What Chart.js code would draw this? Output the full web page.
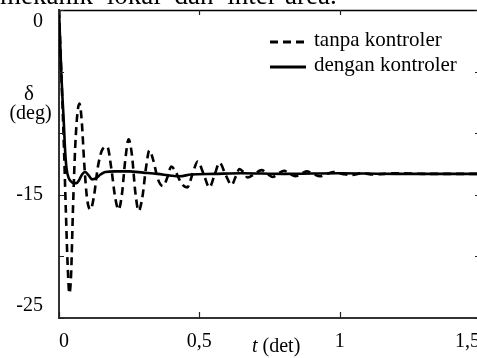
<!DOCTYPE html>
<html><head><meta charset="utf-8">
<script src="https://cdn.jsdelivr.net/npm/chart.js@4.4.1/dist/chart.umd.min.js"></script>
<style>
html,body{margin:0;padding:0;background:#fff;overflow:hidden;width:477px;height:358px;position:relative;}
#wrap{position:absolute;left:0;top:0;width:484px;height:358px;}
.t{position:absolute;font-family:'Liberation Serif','Times New Roman',serif;color:#000;white-space:nowrap;}
</style></head><body>
<div id="wrap"><canvas id="c"></canvas></div>
<div class="t" style="left:0;top:-17.6px;font-size:27px;line-height:27px;word-spacing:7px;">mekanik lokal dan inter-area.</div>
<div class="t" style="left:0;width:58px;text-align:center;top:83px;font-size:21px;line-height:20px;">δ</div>
<div class="t" style="left:0;width:61px;text-align:center;top:102px;font-size:20px;line-height:20px;">(deg)</div>
<div class="t" style="left:252px;top:335px;font-size:20px;line-height:20px;"><i>t</i> (det)</div>
<svg style="position:absolute;left:266px;top:30px" width="44" height="45">
  <line x1="4" y1="12" x2="40" y2="12" stroke="#000" stroke-width="3" stroke-dasharray="8 5"/>
  <line x1="4" y1="37" x2="40" y2="37" stroke="#000" stroke-width="3"/>
</svg>
<div class="t" style="left:314px;top:29.4px;font-size:21px;line-height:21px;">tanpa kontroler</div>
<div class="t" style="left:314px;top:54.4px;font-size:21px;line-height:21px;">dengan kontroler</div>
<script>
// time (s) and rotor angle (deg), without controller (dashed)
const tTanpa = [0,0.008,0.016,0.024,0.031,0.037,0.043,0.05,0.058,0.066,0.073,0.081,0.09,0.1,0.112,0.124,0.138,0.155,0.172,0.186,0.2,0.212,0.224,0.236,0.248,0.26,0.272,0.284,0.297,0.31,0.322,0.336,0.352,0.37,0.386,0.4,0.415,0.437,0.457,0.476,0.494,0.515,0.536,0.554,0.572,0.594,0.615,0.63,0.643,0.658,0.672,0.697,0.722,0.742,0.762,0.782,0.802,0.822,0.842,0.862,0.882,0.905,0.93,0.955,0.98,1.01,1.04,1.08,1.12,1.2,1.3,1.5];
const vTanpa = [0,-5,-10,-16,-20.8,-23,-21.5,-16,-11,-8.3,-7.6,-9,-12.5,-15.3,-16.2,-15.2,-12.8,-11.3,-11.1,-12.8,-15.2,-16.2,-15,-12.2,-10.5,-11.8,-14.8,-16.3,-15.2,-12.8,-11.4,-12.2,-13.7,-14.3,-13.6,-12.7,-13.1,-14.1,-14.4,-13.3,-12.3,-13.3,-14.4,-13.4,-12.4,-13.4,-14.2,-13.5,-12.9,-13.2,-13.6,-13.3,-13.0,-13.3,-13.55,-13.25,-13.05,-13.3,-13.5,-13.3,-13.1,-13.3,-13.5,-13.3,-13.15,-13.3,-13.4,-13.25,-13.35,-13.25,-13.3,-13.3];
// with controller (solid)
const tDengan = [0,0.004,0.008,0.012,0.016,0.022,0.027,0.034,0.042,0.052,0.062,0.072,0.082,0.093,0.105,0.118,0.132,0.148,0.165,0.2,0.25,0.3,0.35,0.4,0.43,0.47,0.55,0.65,0.8,1.0,1.2,1.5];
const vDengan = [0,-2.5,-5,-7,-8.6,-11.5,-12.9,-13.6,-13.9,-14.05,-14.05,-13.8,-13.35,-13.15,-13.4,-13.75,-13.65,-13.35,-13.15,-13.1,-13.1,-13.2,-13.3,-13.45,-13.5,-13.35,-13.3,-13.25,-13.3,-13.25,-13.3,-13.3];
// tick labels
const xTickLabels = {0:'0',0.5:'0,5',1:'1',1.5:'1,5'};
const yTickLabels = {'0':['','0'],'-15':'-15','-25':['-25','']};

const pts = (ts, vs) => ts.map((t, i) => ({x: t, y: vs[i]}));

const frame = {
  id: 'frame',
  afterDatasetsDraw(chart) {
    const {ctx, chartArea: a, scales: {x, y}} = chart;
    ctx.save();
    ctx.strokeStyle = '#000';
    ctx.lineWidth = 1.5;
    ctx.beginPath();
    ctx.moveTo(a.left, a.top + 0.5);
    ctx.lineTo(a.right, a.top + 0.5);
    ctx.lineTo(a.right, a.bottom);
    ctx.stroke();
    ctx.lineWidth = 1.2;
    ctx.strokeStyle = '#222';
    ctx.beginPath();
    y.ticks.forEach(tk => {
      const py = Math.round(y.getPixelForValue(tk.value)) + 0.5;
      ctx.moveTo(a.left, py); ctx.lineTo(a.left + 5, py);
      ctx.moveTo(a.right, py); ctx.lineTo(a.right - 5, py);
    });
    x.ticks.forEach(tk => {
      const px = Math.round(x.getPixelForValue(tk.value)) + 0.5;
      ctx.moveTo(px, a.top); ctx.lineTo(px, a.top + 5);
      ctx.moveTo(px, a.bottom); ctx.lineTo(px, a.bottom - 6);
    });
    ctx.stroke();
    ctx.restore();
  }
};

Chart.defaults.font.family = "'Liberation Serif','Times New Roman',serif";
Chart.defaults.color = '#000';

new Chart(document.getElementById('c'), {
  type: 'line',
  data: {
    datasets: [
      {label: 'dengan kontroler', data: pts(tDengan, vDengan), borderColor: '#000', borderWidth: 2.6,
       pointRadius: 0, cubicInterpolationMode: 'monotone', fill: false},
      {label: 'tanpa kontroler', data: pts(tTanpa, vTanpa), borderColor: '#000', borderWidth: 2.6,
       borderDash: [8, 5], pointRadius: 0, cubicInterpolationMode: 'monotone', fill: false}
    ]
  },
  options: {
    responsive: true, maintainAspectRatio: false, animation: false,
    layout: {padding: {top: 10, right: 4, left: 0, bottom: 0}},
    plugins: {legend: {display: false}, tooltip: {enabled: false}},
    scales: {
      x: {
        type: 'linear', min: 0, max: 1.5,
        grid: {display: false},
        border: {display: true, color: '#333', width: 2},
        ticks: {stepSize: 0.5, align: 'inner', padding: 4, maxRotation: 0, autoSkip: false,
                font: {size: 20}, callback: v => xTickLabels[v] ?? ''},
        afterFit(s) { s.height = 40; s.paddingLeft = 0; s.paddingRight = 0; }
      },
      y: {
        type: 'linear', min: -25, max: 0,
        grid: {display: false},
        border: {display: true, color: '#333', width: 2},
        ticks: {stepSize: 5, padding: 8, autoSkip: false, font: {size: 20},
                callback: v => yTickLabels[String(v)] ?? ''},
        afterFit(s) { s.width = 59; s.paddingTop = 0; s.paddingBottom = 0; }
      }
    }
  },
  plugins: [frame]
});
</script>
</body></html>
